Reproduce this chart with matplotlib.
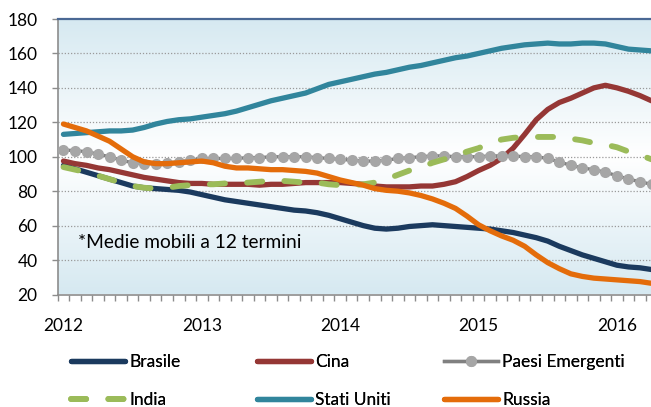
import numpy as np
import matplotlib
matplotlib.use("Agg")
import matplotlib.pyplot as plt
from matplotlib.colors import LinearSegmentedColormap

plt.rcParams["font.family"] = ["Lato", "DejaVu Sans"]
matplotlib.rcParams["font.size"] = 12

# monthly 12-term moving averages, Jan 2012 .. Apr 2016
years = ["2012", "2013", "2014", "2015", "2016"]

brasile = [95, 93, 91, 89, 87, 85, 83, 82, 81.5, 81, 80.5, 79.5,
           78, 76.5, 75, 74, 73, 72, 71, 70, 69, 68.5, 67.5, 66,
           64, 62, 60, 58.5, 58, 58.5, 59.5, 60, 60.5, 60, 59.5, 59,
           58.5, 58, 57, 56, 54.5, 53, 51, 48, 45.5, 43, 41, 39,
           37, 36, 35.5, 34.5]
cina = [97.5, 96, 95, 93.5, 92.5, 91, 89.5, 88, 87, 86, 85, 84.5,
        84.5, 84, 84, 84, 84, 83.5, 84, 84, 84.5, 85, 85, 85,
        85, 84.5, 84, 83, 82.5, 82.5, 82.5, 83, 83, 84, 85.5, 88.5,
        92, 95, 99, 105, 113, 121.5, 127.5, 131.5, 134, 137, 140, 141.5,
        140, 138, 135.5, 132.5]
paesi = [104, 103.5, 103, 101.5, 100, 98, 96.5, 96, 96, 96.5, 97, 98,
         99, 99, 99, 99, 99.5, 99.5, 100, 100, 100, 100, 99.5, 99,
         98.5, 98, 97.5, 97.5, 98, 99, 99.5, 100, 100.5, 100.5, 100, 100,
         100, 100.5, 100.5, 100.5, 100, 100, 99, 97, 95, 93.5, 92.5, 91,
         89, 87, 85.5, 84]
india = [94, 92.5, 91, 89, 87, 85, 83, 82, 81.5, 82, 83, 83.5,
         84, 84, 84.5, 84.5, 85, 85.5, 86, 86, 85.5, 85, 85, 84,
         83.5, 83.5, 84, 85, 87, 89.5, 92, 94, 96.5, 98.5, 100.5, 103,
         105, 108, 110, 111, 111.5, 111.5, 111.5, 111.5, 110.5, 109.5, 108, 107,
         105.5, 103, 101, 98.5]
usa = [113, 113.5, 114, 114.5, 115, 115, 115.5, 117, 119, 120.5, 121.5, 122,
       123, 124, 125, 126.5, 128.5, 130.5, 132.5, 134, 135.5, 137, 139.5, 142,
       143.5, 145, 146.5, 148, 149, 150.5, 152, 153, 154.5, 156, 157.5, 158.5,
       160, 161.5, 163, 164, 165, 165.5, 166, 165.5, 165.5, 166, 166, 165.5,
       164, 162.5, 162, 161.5]
russia = [119, 117, 115, 112, 109, 104.5, 100, 97, 96, 96, 96.5, 97,
          97.5, 96.5, 94.5, 93.5, 93.5, 93, 92.5, 92.5, 92, 91.5, 90.5, 88.5,
          86.5, 85, 83.5, 81.5, 80.5, 80, 79, 77.5, 75.5, 73, 70, 65.5,
          60.5, 57, 54, 51.5, 48, 43, 38.5, 35, 32, 30.5, 29.5, 29,
          28.5, 28, 27.5, 26.5]

W, H = 651, 407
fig = plt.figure(figsize=(W / 100, H / 100), dpi=100)
ax = fig.add_axes([57.7 / W, 1 - 294.5 / H, (657.3 - 57.7) / W, (294.5 - 19) / H])

n = len(brasile)
x = np.arange(n)
ax.set_xlim(-0.5, n - 0.5)
ax.set_ylim(20, 180)

# background gradient blue - white - blue
cmap = LinearSegmentedColormap.from_list("bg", ["#D6E9F1", "#FFFFFF", "#D6E9F1"])
grad = np.linspace(0, 1, 256).reshape(-1, 1)
ax.imshow(grad, cmap=cmap, aspect="auto", extent=(-0.5, n - 0.5, 20, 180),
          zorder=0, interpolation="bicubic")

for v in range(40, 180, 20):
    ax.axhline(v, color="#9A9A9A", lw=0.9, ls=(0, (1, 1.5)), zorder=1)

lw = 3.8
l_br, = ax.plot(x, brasile, color="#1B3A5E", lw=lw, solid_capstyle="round", zorder=3, label="Brasile")
l_ci, = ax.plot(x, cina, color="#953735", lw=lw, solid_capstyle="round", zorder=3, label="Cina")
l_pe, = ax.plot(x, paesi, color="#808080", lw=2.4, marker="o", ms=8, mfc="#A6A6A6",
                mec="#A6A6A6", mew=0, zorder=3, label="Paesi Emergenti")
l_in, = ax.plot(x, india, color="#9BBB59", lw=4.2, ls=(0, (2.6, 3.8)),
                dash_capstyle="round", zorder=3, label="India")
l_us, = ax.plot(x, usa, color="#31859C", lw=lw, solid_capstyle="round", zorder=3, label="Stati Uniti")
l_ru, = ax.plot(x, russia, color="#E46C0A", lw=lw, solid_capstyle="round", zorder=3, label="Russia")

ax.text(1.26, 47.1, "*Medie mobili a 12 termini", fontsize=13.8, ha="left", va="baseline", zorder=4)

# axes styling
for s in ["left", "bottom"]:
    ax.spines[s].set_color("#8C8C8C")
    ax.spines[s].set_linewidth(1.2)
ax.spines["right"].set_visible(False)
ax.spines["top"].set_color("#4A6894")
ax.spines["top"].set_linewidth(1.6)

ax.set_yticks(range(20, 181, 20))
ax.tick_params(axis="y", direction="out", length=4.5, width=1, color="#8C8C8C", pad=10, labelsize=12.5)

ax.set_xticks(np.arange(0, n, 12))
ax.set_xticklabels(years)
ax.set_xticks(np.arange(-0.5, n, 1), minor=True)
ax.tick_params(axis="x", which="major", length=0, pad=17, labelsize=12.5)
ax.tick_params(axis="x", which="minor", direction="out", length=4.3, width=1, color="#8C8C8C")

# legend, 3 columns x 2 rows
handles = [l_br, l_ci, l_pe, l_in, l_us, l_ru]
col_x = [71, 257, 444]
row_y = [361.7, 400]
for k, h in enumerate(handles):
    leg = fig.legend(handles=[h], loc="center left",
                     bbox_to_anchor=(col_x[k % 3] / W, 1 - row_y[k // 3] / H),
                     frameon=False, borderpad=0, borderaxespad=0,
                     handlelength=3.1, handletextpad=0.25, fontsize=12.5, numpoints=1)
    fig.add_artist(leg)

fig.savefig("out.png", dpi=100)
